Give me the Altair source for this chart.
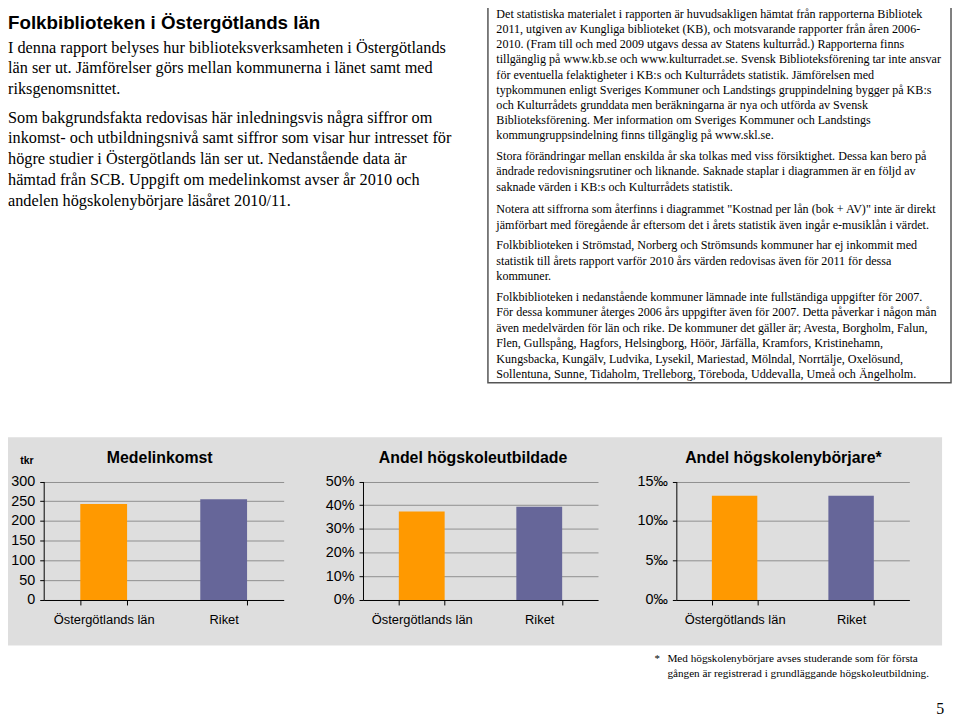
import altair as alt
import pandas as pd

# ---------------- data ----------------
regions = ["Östergötlands län", "Riket"]
income_tkr = [243, 255]
higher_ed_pct = [37.3, 39.3]
new_students_permille = [13.2, 13.2]
bar_colors = ["#ff9900", "#666699"]

income_ticks = [0, 50, 100, 150, 200, 250, 300]
higher_ed_ticks = [0, 10, 20, 30, 40, 50]
new_students_ticks = [0, 5, 10, 15]

chart_titles = ["Medelinkomst", "Andel högskoleutbildade", "Andel högskolenybörjare*"]
unit_label = "tkr"

page_title = "Folkbiblioteken i Östergötlands län"
intro_para1 = [
    "I denna rapport belyses hur biblioteksverksamheten i Östergötlands",
    "län ser ut. Jämförelser görs mellan kommunerna i länet samt med",
    "riksgenomsnittet.",
]
intro_para2 = [
    "Som bakgrundsfakta redovisas här inledningsvis några siffror om",
    "inkomst- och utbildningsnivå samt siffror som visar hur intresset för",
    "högre studier i Östergötlands län ser ut. Nedanstående data är",
    "hämtad från SCB. Uppgift om medelinkomst avser år 2010 och",
    "andelen högskolenybörjare läsåret 2010/11.",
]
box_para1 = [
    "Det statistiska materialet i rapporten är huvudsakligen hämtat från rapporterna Bibliotek",
    "2011, utgiven av Kungliga biblioteket (KB), och motsvarande rapporter från åren 2006-",
    "2010. (Fram till och med 2009 utgavs dessa av Statens kulturråd.) Rapporterna finns",
    "tillgänglig på www.kb.se och www.kulturradet.se. Svensk Biblioteksförening tar inte ansvar",
    "för eventuella felaktigheter i KB:s och Kulturrådets statistik. Jämförelsen med",
    "typkommunen enligt Sveriges Kommuner och Landstings gruppindelning bygger på KB:s",
    "och Kulturrådets grunddata men beräkningarna är nya och utförda av Svensk",
    "Biblioteksförening. Mer information om Sveriges Kommuner och Landstings",
    "kommungruppsindelning finns tillgänglig på www.skl.se.",
]
box_para2 = [
    "Stora förändringar mellan enskilda år ska tolkas med viss försiktighet. Dessa kan bero på",
    "ändrade redovisningsrutiner och liknande. Saknade staplar i diagrammen är en följd av",
    "saknade värden i KB:s och Kulturrådets statistik.",
]
box_para3 = [
    "Notera att siffrorna som återfinns i diagrammet \"Kostnad per lån (bok + AV)\" inte är direkt",
    "jämförbart med föregående år eftersom det i årets statistik även ingår e-musiklån i värdet.",
]
box_para4 = [
    "Folkbiblioteken i Strömstad, Norberg och Strömsunds kommuner har ej inkommit med",
    "statistik till årets rapport varför 2010 års värden redovisas även för 2011 för dessa",
    "kommuner.",
]
box_para5 = [
    "Folkbiblioteken i nedanstående kommuner lämnade inte fullständiga uppgifter för 2007.",
    "För dessa kommuner återges 2006 års uppgifter även för 2007. Detta påverkar i någon mån",
    "även medelvärden för län och rike. De kommuner det gäller är; Avesta, Borgholm, Falun,",
    "Flen, Gullspång, Hagfors, Helsingborg, Höör, Järfälla, Kramfors, Kristinehamn,",
    "Kungsbacka, Kungälv, Ludvika, Lysekil, Mariestad, Mölndal, Norrtälje, Oxelösund,",
    "Sollentuna, Sunne, Tidaholm, Trelleborg, Töreboda, Uddevalla, Umeå och Ängelholm.",
]
footnote_mark = "*"
footnote_lines = [
    "Med högskolenybörjare avses studerande som för första",
    "gången är registrerad i grundläggande högskoleutbildning.",
]
page_number = "5"

# ---------------- layout helpers ----------------
W, H = 952, 710
SANS = "Liberation Sans"
SERIF = "Liberation Serif"
PANEL = "#dedede"
GRID = "#8f8f8f"
BOX_FS = 12.2


def X(v):  # page pixel -> chart pixel (8px page margin)
    return v - 8


def Y(v):
    return v - 8


one = pd.DataFrame({"k": [0]})


def text_layer(lines, x, y, size, font=SERIF, weight="normal", align="left",
               baseline="alphabetic", line_height=None):
    kw = dict(text=lines, font=font, fontSize=size, fontWeight=weight,
              align=align, baseline=baseline, color="black")
    if line_height:
        kw["lineHeight"] = line_height
    return alt.Chart(one).mark_text(**kw).encode(x=alt.value(x), y=alt.value(y))


def rect_layer(x0, y0, x1, y1, fill, stroke=None, sw=0):
    kw = dict(fill=fill, strokeWidth=sw)
    if stroke:
        kw["stroke"] = stroke
    return alt.Chart(one).mark_rect(**kw).encode(
        x=alt.value(x0), x2=alt.value(x1), y=alt.value(y0), y2=alt.value(y1))


def bar_layer(values, ticks, x0, x1, label_expr):
    df = pd.DataFrame({"region": regions, "value": values, "col": bar_colors})
    yaxis = dict(orient="left", offset=-X(x0), values=ticks, title=None, grid=True,
                 gridColor=GRID, gridWidth=1, tickSize=4, labelPadding=5,
                 labelFont=SANS, labelFontSize=14.5, labelColor="black",
                 domainColor="black", tickColor="black")
    if label_expr:
        yaxis["labelExpr"] = label_expr
    return alt.Chart(df).mark_bar().encode(
        x=alt.X("region:N", sort=regions,
                scale=alt.Scale(range=[X(x0), X(x1)], paddingInner=0.61, paddingOuter=0.305),
                axis=alt.Axis(orient="bottom", offset=Y(602) - H, title=None, labelAngle=0,
                              tickBand="extent", tickSize=5, labelPadding=9, grid=False,
                              labelFont=SANS, labelFontSize=13, labelColor="black",
                              domainColor="black", tickColor="black", labelOverlap=False)),
        y=alt.Y("value:Q",
                scale=alt.Scale(domain=[ticks[0], ticks[-1]], range=[Y(602), Y(482.5)], nice=False),
                axis=alt.Axis(**yaxis)),
        color=alt.Color("col:N", scale=None),
    )


bars1 = bar_layer(income_tkr, income_ticks, 44, 286, None)
bars2 = bar_layer(higher_ed_pct, higher_ed_ticks, 366, 603, "datum.value + '%'")
bars3 = bar_layer(new_students_permille, new_students_ticks, 682, 917, "datum.value + '‰'")

layers = [
    bars1, bars2, bars3,
    # white page areas around the grey chart panel
    rect_layer(-10, -10, 970, Y(438), "white"),
    rect_layer(-10, Y(648), 970, 730, "white"),
    rect_layer(X(950), Y(430), 970, Y(650), "white"),
    # framed notes box
    rect_layer(X(492), Y(0), X(959), Y(383), "white", stroke="#555555", sw=1.5),
    # texts
    text_layer([page_title], 0, Y(26), 18.9, font=SANS, weight="bold"),
    text_layer(intro_para1, 0, Y(50), 16.4, line_height=21),
    text_layer(intro_para2, 0, Y(120.5), 16.4, line_height=21),
    text_layer(box_para1, X(500.5), Y(15), BOX_FS, line_height=15.3),
    text_layer(box_para2, X(500.5), Y(158), BOX_FS, line_height=15.7),
    text_layer(box_para3, X(500.5), Y(212), BOX_FS, line_height=15.7),
    text_layer(box_para4, X(500.5), Y(248), BOX_FS, line_height=15.7),
    text_layer(box_para5, X(500.5), Y(300), BOX_FS, line_height=15.7),
    text_layer([chart_titles[0]], X(161), Y(459), 16, font=SANS, weight="bold",
               align="center", baseline="middle"),
    text_layer([chart_titles[1]], X(477), Y(459), 16, font=SANS, weight="bold",
               align="center", baseline="middle"),
    text_layer([chart_titles[2]], X(790), Y(459), 16, font=SANS, weight="bold",
               align="center", baseline="middle"),
    text_layer([unit_label], X(27), Y(462), 10.5, font=SANS, weight="bold",
               align="center", baseline="middle"),
    text_layer([footnote_mark], X(660), Y(665), 11),
    text_layer(footnote_lines, X(673), Y(665), 11.3, line_height=15),
    text_layer([page_number], X(948), Y(717), 16, align="center"),
]

chart = (
    alt.layer(*layers)
    .resolve_scale(x="independent", y="independent")
    .resolve_axis(x="independent", y="independent")
    .properties(width=W, height=H, padding=0, background=PANEL,
                autosize=alt.AutoSizeParams(type="none"))
    .configure_view(strokeWidth=0)
)

chart.save("out.html", embed_options={"renderer": "svg", "actions": False})
